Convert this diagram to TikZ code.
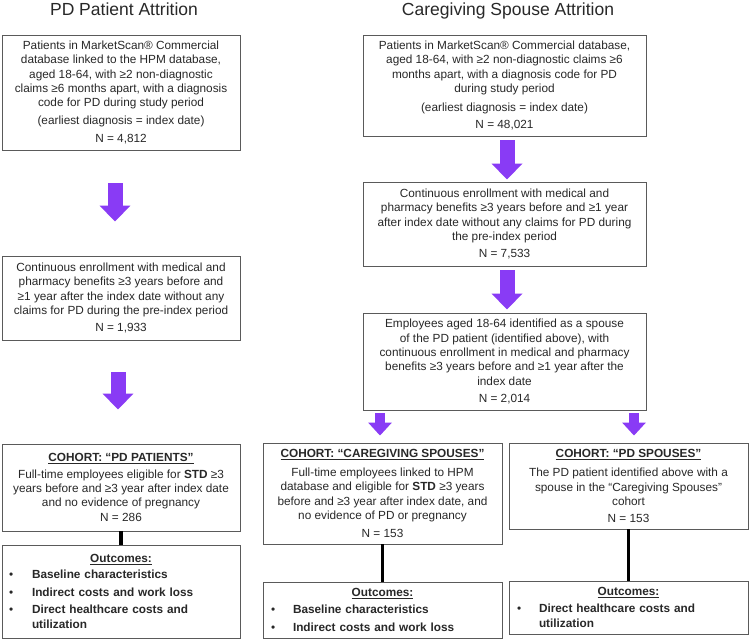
\documentclass[tikz,border=0pt]{standalone}
\usepackage{fontspec}
\setmainfont{Liberation Sans}
\usetikzlibrary{arrows.meta}
\definecolor{arrowpurple}{RGB}{137,59,245}
\definecolor{boxline}{RGB}{90,90,90}
\definecolor{txt}{RGB}{40,40,40}
\begin{document}
\begin{tikzpicture}[x=1pt,y=-1pt,
  every node/.style={text=txt},
  fbox/.style={draw=boxline, line width=0.9pt, inner sep=0pt, align=center,
     font=\fontsize{11.8pt}{14.3pt}\selectfont},
  obox/.style={fbox, align=left},
  titletext/.style={font=\fontsize{17.5pt}{20pt}\selectfont, anchor=base, inner sep=0pt},
  bigarrow/.style={draw=arrowpurple, line width=15pt, -{Triangle[length=16pt,width=30pt]}},
  smallarrow/.style={draw=arrowpurple, line width=10pt, -{Triangle[length=13pt,width=23pt]}},
  link/.style={draw=black, line width=3.5pt}
]
\useasboundingbox[fill=white] (0,0) rectangle (752,644);

% titles
\node[titletext] (t1) at (124,16) {PD Patient Attrition};
\node[titletext] (t2) at (508,16) {Caregiving Spouse Attrition};

% left column
\node[fbox, minimum width=238pt, minimum height=115pt] (L1) at (121,92.5)
 {Patients in MarketScan® Commercial\\
  database linked to the HPM database,\\
  aged 18-64, with ≥2 non-diagnostic\\
  claims ≥6 months apart, with a diagnosis\\
  code for PD during study period\\[3.7pt]
  (earliest diagnosis = index date)\\[3.7pt]
  N = 4,812};

\node[fbox, minimum width=238pt, minimum height=84pt] (L2) at (121,298)
 {Continuous enrollment with medical and\\
  pharmacy benefits ≥3 years before and\\
  ≥1 year after the index date without any\\
  claims for PD during the pre-index period\\[2.7pt]
  N = 1,933};

\node[fbox, minimum width=238pt, minimum height=87pt] (L3) at (121,487.5)
 {\underline{\textbf{COHORT: “PD PATIENTS”}}\\[2.7pt]
  Full-time employees eligible for \textbf{STD} ≥3\\
  years before and ≥3 year after index date\\
  and no evidence of pregnancy\\[0.7pt]
  N = 286};

\node[obox, text width=238pt, minimum height=93pt] (L4) at (121,591.5)
 {\makebox[238pt]{\underline{\textbf{Outcomes:}}}\\[1.7pt]
  \hspace*{7pt}\makebox[23pt][l]{•}\textbf{Baseline characteristics}\\[3.2pt]
  \hspace*{7pt}\makebox[23pt][l]{•}\textbf{Indirect costs and work loss}\\[3.2pt]
  \hspace*{7pt}\makebox[23pt][l]{•}\textbf{Direct healthcare costs and}\\
  \hspace*{30pt}\textbf{utilization}};

% right column
\node[fbox, minimum width=283pt, minimum height=101pt] (R1) at (504.5,85.5)
 {Patients in MarketScan® Commercial database,\\
  aged 18-64, with ≥2 non-diagnostic claims ≥6\\
  months apart, with a diagnosis code for PD\\
  during study period\\[4.7pt]
  (earliest diagnosis = index date)\\[2.7pt]
  N = 48,021};

\node[fbox, minimum width=283pt, minimum height=84pt] (R2) at (504.5,224)
 {Continuous enrollment with medical and\\
  pharmacy benefits ≥3 years before and ≥1 year\\
  after index date without any claims for PD during\\
  the pre-index period\\[2.5pt]
  N = 7,533};

\node[fbox, minimum width=283pt, minimum height=97pt] (R3) at (504.5,361.5)
 {Employees aged 18-64 identified as a spouse\\
  of the PD patient (identified above), with\\
  continuous enrollment in medical and pharmacy\\
  benefits ≥3 years before and ≥1 year after the\\
  index date\\[2.7pt]
  N = 2,014};

\node[fbox, minimum width=239pt, minimum height=101pt] (R4a) at (382.5,493.5)
 {\underline{\textbf{COHORT: “CAREGIVING SPOUSES”}}\\[4.7pt]
  Full-time employees linked to HPM\\
  database and eligible for \textbf{STD} ≥3 years\\
  before and ≥3 year after index date, and\\
  no evidence of PD or pregnancy\\[3.7pt]
  N = 153};

\node[fbox, minimum width=239pt, minimum height=86pt] (R4b) at (628.5,486)
 {\underline{\textbf{COHORT: “PD SPOUSES”}}\\[4.7pt]
  The PD patient identified above with a\\
  spouse in the “Caregiving Spouses”\\
  cohort\\[2.7pt]
  N = 153};

\node[obox, text width=239pt, minimum height=56pt] (R5a) at (382.5,610)
 {\makebox[239pt]{\underline{\textbf{Outcomes:}}}\\[2.7pt]
  \hspace*{8pt}\makebox[22pt][l]{•}\textbf{Baseline characteristics}\\[3.7pt]
  \hspace*{8pt}\makebox[22pt][l]{•}\textbf{Indirect costs and work loss}};

\node[obox, text width=239pt, minimum height=53pt] (R5b) at (628.5,607.5)
 {\makebox[239pt]{\underline{\textbf{Outcomes:}}}\\[2.7pt]
  \hspace*{8pt}\makebox[22pt][l]{•}\textbf{Direct healthcare costs and}\\
  \hspace*{30pt}\textbf{utilization}};

% purple arrows
\draw[bigarrow, shorten <=33pt, shorten >=34pt] ([xshift=-6pt]L1.south) -- ([xshift=-6pt]L2.north);
\draw[bigarrow, shorten <=32pt, shorten >=34pt] ([xshift=-3pt]L2.south) -- ([xshift=-3pt]L3.north);
\draw[bigarrow, shorten <=4pt, shorten >=2pt] ([xshift=2.5pt]R1.south) -- ([xshift=2.5pt]R2.north);
\draw[bigarrow, shorten <=4pt, shorten >=3pt] ([xshift=2.5pt]R2.south) -- ([xshift=2.5pt]R3.north);
\draw[smallarrow, shorten <=3pt, shorten >=7pt] ([xshift=-2.5pt]R4a.north |- R3.south) -- ([xshift=-2.5pt]R4a.north);
\draw[smallarrow, shorten <=3pt, shorten >=7pt] ([xshift=5.5pt]R4b.north |- R3.south) -- ([xshift=5.5pt]R4b.north);

% black links
\draw[link] (L3.south) -- (L4.north);
\draw[link] (R4a.south) -- (R5a.north);
\draw[link] (R4b.south) -- (R5b.north);
\end{tikzpicture}
\end{document}
